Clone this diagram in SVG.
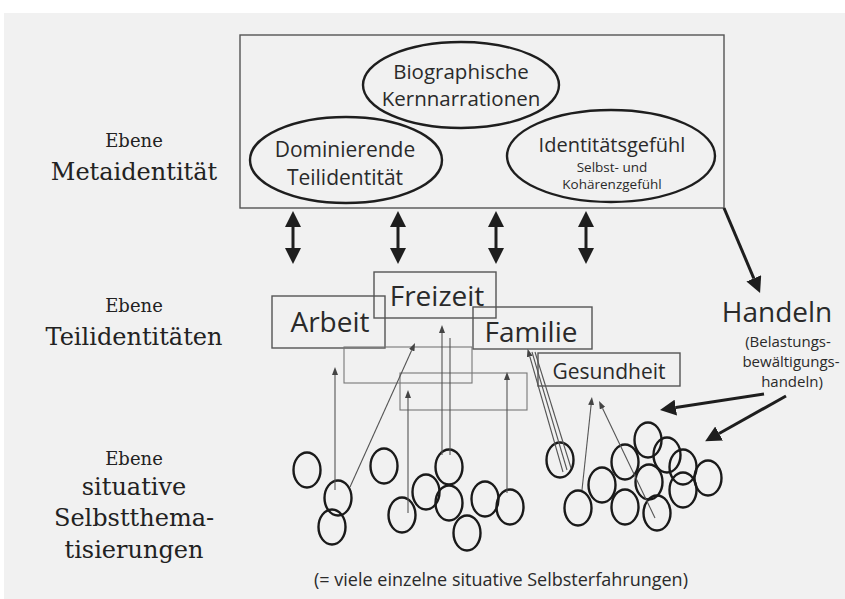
<svg xmlns="http://www.w3.org/2000/svg" width="845" height="599" viewBox="0 0 845 599">
<defs>
<style>
.sans{font-family:"Open Sans","Liberation Sans",sans-serif;fill:#2a2a2a}
.serif{font-family:"DejaVu Serif","Liberation Serif",serif;fill:#222;text-anchor:middle}
.mid{text-anchor:middle}
.ell{fill:none;stroke:#1e1e1e;stroke-width:2.4}
.box{fill:none;stroke:#555;stroke-width:1.4}
.thinbox{fill:none;stroke:#777;stroke-width:1.1}
.circ{fill:none;stroke:#1a1a1a;stroke-width:2.4}
.bold{stroke:#1e1e1e;stroke-width:3;fill:none}
.thin{stroke:#555;stroke-width:1.1;fill:none}
</style>
<marker id="bigHead" viewBox="0 0 16 16" refX="0" refY="8" markerWidth="16" markerHeight="16" markerUnits="userSpaceOnUse" orient="auto-start-reverse">
<path d="M0,0 L16,8 L0,16 z" fill="#1e1e1e"/>
</marker>
<marker id="smallHead" viewBox="0 0 8 6" refX="0" refY="3" markerWidth="8" markerHeight="6" markerUnits="userSpaceOnUse" orient="auto">
<path d="M0,0 L8,3 L0,6 z" fill="#444"/>
</marker>
</defs>
<rect x="0" y="0" width="845" height="599" fill="#ffffff"/>
<rect x="4" y="13" width="841" height="586" fill="#f1f1f1"/>

<g id="labels-levels">
<text class="serif" x="134" y="147" font-size="18">Ebene</text>
<text class="serif" x="134" y="180" font-size="24">Metaidentität</text>
<text class="serif" x="134" y="312" font-size="18">Ebene</text>
<text class="serif" x="134" y="345" font-size="24">Teilidentitäten</text>
<text class="serif" x="134" y="465" font-size="18">Ebene</text>
<text class="serif" x="134" y="495" font-size="24">situative</text>
<text class="serif" x="134" y="526" font-size="24">Selbstthema-</text>
<text class="serif" x="134" y="558" font-size="24">tisierungen</text>
</g>

<g id="metaidentitaet-box">
<rect class="box" x="240" y="35" width="484" height="173"/>
</g>
<g id="biographische-kernnarrationen">
<ellipse class="ell" cx="461" cy="85" rx="98" ry="43"/>
<text class="sans mid" x="461" y="79" font-size="20.5">Biographische</text>
<text class="sans mid" x="461" y="106" font-size="20.5">Kernnarrationen</text>
</g>
<g id="dominierende-teilidentitaet">
<ellipse class="ell" cx="346" cy="160" rx="96" ry="43"/>
<text class="sans mid" x="345" y="157" font-size="21">Dominierende</text>
<text class="sans mid" x="345" y="185" font-size="21">Teilidentität</text>
</g>
<g id="identitaetsgefuehl">
<ellipse class="ell" cx="611" cy="156" rx="104" ry="46"/>
<text class="sans mid" x="612" y="152" font-size="20">Identitätsgefühl</text>
<text class="sans mid" x="612" y="172" font-size="13.5">Selbst- und</text>
<text class="sans mid" x="612" y="189" font-size="13.5">Kohärenzgefühl</text>
</g>

<g id="arbeit">
<rect class="box" x="272" y="296" width="113" height="52"/>
<text class="sans mid" x="330" y="332" font-size="28">Arbeit</text>
</g>
<g id="freizeit">
<rect class="box" x="374" y="272" width="122" height="46"/>
<text class="sans mid" x="437" y="306" font-size="28">Freizeit</text>
</g>
<g id="familie">
<rect class="box" x="473" y="307" width="119" height="42"/>
<text class="sans mid" x="531" y="342" font-size="28">Familie</text>
</g>
<g id="gesundheit">
<rect class="box" x="538" y="353" width="142" height="33"/>
<text class="sans mid" x="609" y="379" font-size="21">Gesundheit</text>
</g>
<g id="weitere-teilidentitaeten">
<rect class="thinbox" x="344" y="347" width="128" height="36"/>
<rect class="thinbox" x="400" y="373" width="127" height="37"/>
</g>

<g id="handeln">
<text class="sans mid" x="777" y="322" font-size="28">Handeln</text>
<text class="sans mid" x="788" y="347" font-size="15">(Belastungs-</text>
<text class="sans mid" x="791" y="367" font-size="15">bewältigungs-</text>
<text class="sans mid" x="792" y="387" font-size="15">handeln)</text>
</g>

<g id="selbstthematisierungen">
<ellipse class="circ" cx="307" cy="470" rx="13.5" ry="17.5"/>
<ellipse class="circ" cx="338" cy="498" rx="13.5" ry="17.5"/>
<ellipse class="circ" cx="332" cy="527" rx="13.5" ry="17.5"/>
<ellipse class="circ" cx="384" cy="466" rx="13.5" ry="17.5"/>
<ellipse class="circ" cx="402" cy="515" rx="13.5" ry="17.5"/>
<ellipse class="circ" cx="426" cy="492" rx="13.5" ry="17.5"/>
<ellipse class="circ" cx="449" cy="467" rx="13.5" ry="17.5"/>
<ellipse class="circ" cx="449" cy="503" rx="13.5" ry="17.5"/>
<ellipse class="circ" cx="467" cy="533" rx="13.5" ry="17.5"/>
<ellipse class="circ" cx="485" cy="499" rx="13.5" ry="17.5"/>
<ellipse class="circ" cx="510" cy="507" rx="13.5" ry="17.5"/>
<ellipse class="circ" cx="560" cy="460" rx="13.5" ry="17.5"/>
<ellipse class="circ" cx="578" cy="508" rx="13.5" ry="17.5"/>
<ellipse class="circ" cx="602" cy="485" rx="13.5" ry="17.5"/>
<ellipse class="circ" cx="625" cy="462" rx="13.5" ry="17.5"/>
<ellipse class="circ" cx="625" cy="507" rx="13.5" ry="17.5"/>
<ellipse class="circ" cx="648" cy="440" rx="13.5" ry="17.5"/>
<ellipse class="circ" cx="667" cy="455" rx="13.5" ry="17.5"/>
<ellipse class="circ" cx="649" cy="482" rx="13.5" ry="17.5"/>
<ellipse class="circ" cx="657" cy="513" rx="13.5" ry="17.5"/>
<ellipse class="circ" cx="683" cy="467" rx="13.5" ry="17.5"/>
<ellipse class="circ" cx="683" cy="490" rx="13.5" ry="17.5"/>
<ellipse class="circ" cx="708" cy="478" rx="13.5" ry="17.5"/>
<text class="sans mid" x="501" y="586" font-size="18">(= viele einzelne situative Selbsterfahrungen)</text>
</g>

<g id="connectors">
<line class="bold" x1="293" y1="227" x2="293" y2="248" marker-start="url(#bigHead)" marker-end="url(#bigHead)"/>
<line class="bold" x1="398" y1="227" x2="398" y2="248" marker-start="url(#bigHead)" marker-end="url(#bigHead)"/>
<line class="bold" x1="496" y1="227" x2="496" y2="248" marker-start="url(#bigHead)" marker-end="url(#bigHead)"/>
<line class="bold" x1="586" y1="227" x2="586" y2="248" marker-start="url(#bigHead)" marker-end="url(#bigHead)"/>
<line class="bold" stroke-width="2.6" x1="724" y1="208" x2="753.8" y2="278.3" marker-end="url(#bigHead)"/>
<line class="bold" stroke-width="2.6" x1="764" y1="394" x2="675.8" y2="407.6" marker-end="url(#bigHead)"/>
<line class="bold" stroke-width="2.6" x1="786" y1="396" x2="719.1" y2="433.5" marker-end="url(#bigHead)"/>

<line class="thin" x1="335" y1="490" x2="335" y2="375" marker-end="url(#smallHead)"/>
<line class="thin" x1="350" y1="487" x2="411.7" y2="350.3" marker-end="url(#smallHead)"/>
<line class="thin" x1="408" y1="513" x2="408" y2="398" marker-end="url(#smallHead)"/>
<line class="thin" x1="442" y1="455" x2="442" y2="333" marker-end="url(#smallHead)"/>
<line class="thin" x1="450" y1="455" x2="450" y2="338"/>
<line class="thin" x1="507" y1="493" x2="507" y2="380" marker-end="url(#smallHead)"/>
<line class="thin" x1="563" y1="472" x2="529.8" y2="356.5" marker-end="url(#smallHead)"/>
<line class="thin" x1="567" y1="470" x2="532" y2="352"/>
<line class="thin" x1="571" y1="468" x2="535" y2="352"/>
<line class="thin" x1="582" y1="490" x2="591.1" y2="405" marker-end="url(#smallHead)"/>
<line class="thin" x1="655" y1="518" x2="602.5" y2="408.2" marker-end="url(#smallHead)"/>
</g>
</svg>
